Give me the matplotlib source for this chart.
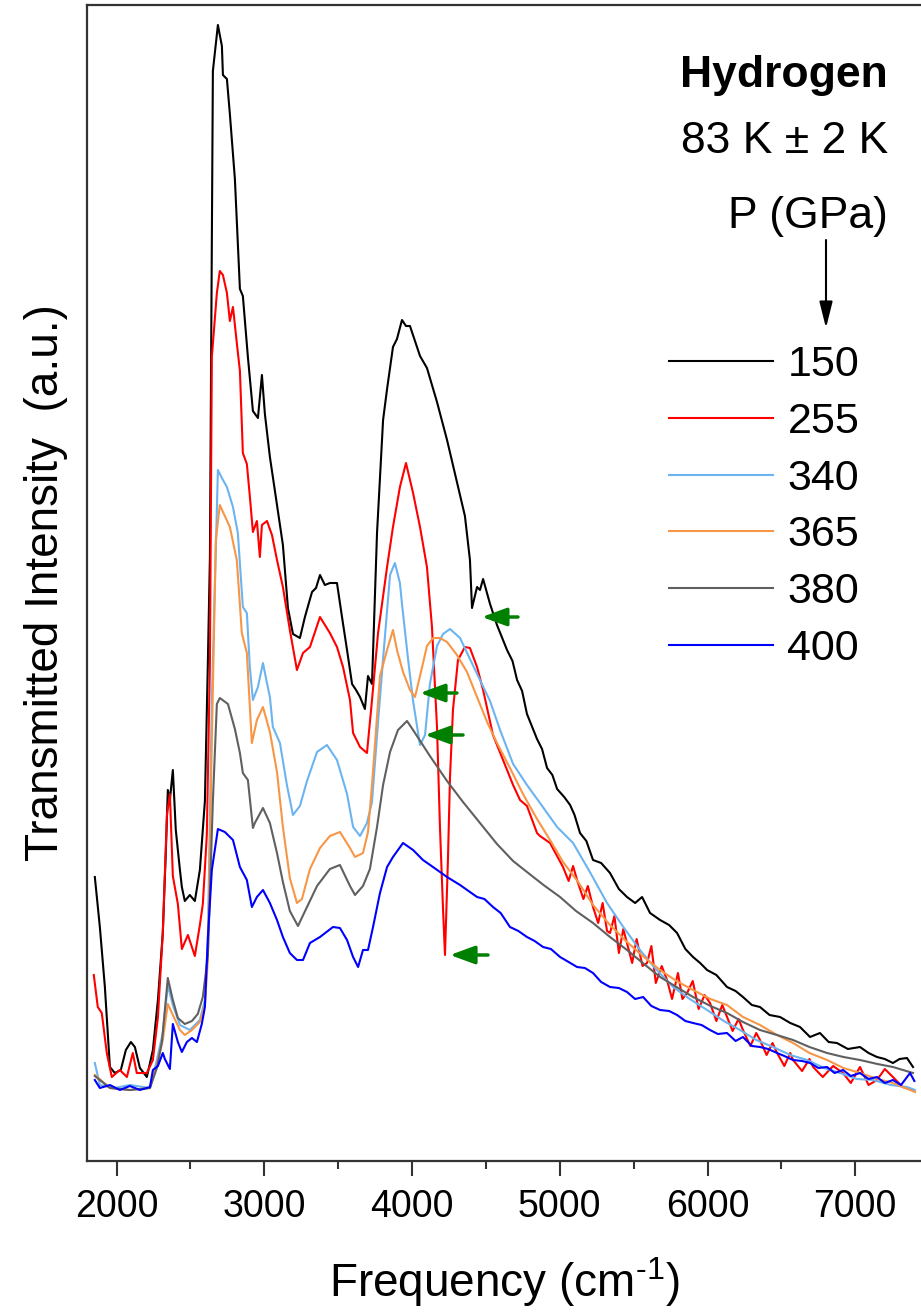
import numpy as np
import matplotlib
matplotlib.use("Agg")
import matplotlib.pyplot as plt
from matplotlib.ticker import MultipleLocator

plt.rcParams['font.family'] = ['Liberation Sans', 'DejaVu Sans']
plt.rcParams['mathtext.default'] = 'regular'

# spectra: (frequency cm-1, intensity a.u.)
s150 = [(1853, 2.84), (1887, 2.34), (1921, 1.74), (1955, 0.94), (1988, 0.88), (2029, 0.91),
        (2063, 1.11), (2097, 1.19), (2124, 1.14), (2158, 0.93), (2205, 0.84), (2246, 1.11),
        (2280, 1.61), (2313, 2.28), (2334, 3.11), (2347, 3.71), (2361, 3.61), (2381, 3.91),
        (2401, 3.31), (2429, 2.91), (2442, 2.74), (2462, 2.60), (2496, 2.66), (2530, 2.60),
        (2564, 2.91), (2598, 3.60), (2618, 4.98), (2632, 6.04), (2652, 10.90), (2686, 11.36),
        (2713, 11.15), (2720, 10.86), (2747, 10.82), (2767, 10.47), (2801, 9.82), (2835, 8.72),
        (2855, 8.65), (2889, 8.04), (2923, 7.50), (2957, 7.43), (2984, 7.86), (3004, 7.47),
        (3038, 7.04), (3086, 6.56), (3126, 6.16), (3160, 5.53), (3194, 5.27), (3241, 5.23),
        (3275, 5.44), (3323, 5.69), (3350, 5.73), (3377, 5.86), (3410, 5.76), (3444, 5.78),
        (3492, 5.78), (3526, 5.44), (3560, 5.11), (3594, 4.77), (3621, 4.71), (3648, 4.64),
        (3681, 4.52), (3702, 4.85), (3729, 4.77), (3763, 6.28), (3804, 7.41), (3831, 7.72),
        (3871, 8.14), (3898, 8.22), (3932, 8.41), (3959, 8.35), (3986, 8.35), (4034, 8.14),
        (4054, 8.05), (4101, 7.93), (4169, 7.59), (4237, 7.21), (4304, 6.79), (4358, 6.45),
        (4392, 6.01), (4406, 5.53), (4440, 5.74), (4460, 5.71), (4481, 5.82), (4528, 5.57),
        (4575, 5.36), (4643, 5.11), (4680, 5.00), (4711, 4.81), (4745, 4.70), (4778, 4.47),
        (4846, 4.22), (4880, 4.12), (4914, 3.93), (4950, 3.86), (4982, 3.72), (5030, 3.64),
        (5070, 3.56), (5100, 3.46), (5137, 3.28), (5180, 3.20), (5225, 3.01), (5280, 2.98),
        (5340, 2.88), (5400, 2.72), (5455, 2.64), (5510, 2.58), (5557, 2.64), (5611, 2.48),
        (5679, 2.41), (5740, 2.36), (5794, 2.28), (5850, 2.12), (5902, 2.04), (5950, 1.98),
        (5997, 1.91), (6060, 1.86), (6132, 1.74), (6190, 1.70), (6240, 1.64), (6300, 1.56),
        (6355, 1.54), (6420, 1.46), (6491, 1.44), (6560, 1.38), (6626, 1.34), (6694, 1.24),
        (6761, 1.28), (6820, 1.19), (6876, 1.18), (6950, 1.12), (7032, 1.14), (7090, 1.08),
        (7147, 1.04), (7200, 1.02), (7255, 0.98), (7300, 1.02), (7350, 1.03), (7391, 0.94)]

s255 = [(1846, 1.86), (1873, 1.54), (1900, 1.48), (1934, 1.08), (1968, 0.84), (2022, 0.91),
        (2070, 0.84), (2110, 1.08), (2137, 0.88), (2205, 0.88), (2246, 1.01), (2280, 1.44),
        (2313, 2.28), (2341, 3.46), (2361, 3.67), (2381, 2.85), (2415, 2.57), (2442, 2.12),
        (2483, 2.26), (2530, 2.05), (2564, 2.36), (2584, 2.57), (2611, 3.26), (2632, 4.98),
        (2645, 8.04), (2679, 8.68), (2699, 8.90), (2720, 8.86), (2747, 8.68), (2767, 8.40),
        (2788, 8.54), (2814, 8.18), (2835, 7.90), (2855, 7.08), (2882, 6.97), (2902, 6.65),
        (2923, 6.29), (2950, 6.40), (2970, 6.04), (2984, 6.36), (3018, 6.40), (3052, 6.26),
        (3086, 6.01), (3126, 5.74), (3173, 5.31), (3221, 4.91), (3262, 5.08), (3309, 5.14),
        (3377, 5.44), (3444, 5.28), (3492, 5.14), (3533, 4.94), (3580, 4.61), (3601, 4.28),
        (3648, 4.14), (3695, 4.08), (3729, 4.61), (3770, 5.28), (3831, 5.94), (3871, 6.34),
        (3918, 6.74), (3959, 6.98), (4007, 6.68), (4054, 6.34), (4101, 5.94), (4135, 5.34),
        (4169, 4.34), (4189, 3.34), (4210, 2.51), (4223, 2.06), (4243, 3.01), (4257, 3.84),
        (4277, 4.51), (4311, 5.01), (4358, 5.14), (4392, 5.13), (4440, 4.94), (4481, 4.71),
        (4548, 4.26), (4616, 4.01), (4684, 3.76), (4731, 3.61), (4778, 3.55), (4846, 3.28),
        (4866, 3.25), (4934, 3.18), (5022, 2.94), (5060, 2.80), (5090, 2.95), (5117, 2.81),
        (5160, 2.62), (5190, 2.75), (5225, 2.54), (5260, 2.38), (5290, 2.58), (5320, 2.30),
        (5340, 2.28), (5370, 2.45), (5400, 2.08), (5430, 2.32), (5455, 2.18), (5490, 1.98),
        (5520, 2.22), (5560, 1.95), (5591, 1.98), (5620, 2.15), (5650, 1.78), (5690, 1.95),
        (5726, 1.81), (5760, 1.62), (5800, 1.88), (5830, 1.62), (5862, 1.68), (5900, 1.80),
        (5940, 1.52), (5980, 1.66), (6017, 1.58), (6060, 1.40), (6100, 1.56), (6132, 1.44),
        (6170, 1.30), (6210, 1.42), (6240, 1.31), (6290, 1.15), (6330, 1.28), (6355, 1.21),
        (6400, 1.06), (6440, 1.18), (6471, 1.08), (6520, 0.95), (6560, 1.08), (6579, 1.01),
        (6640, 0.90), (6690, 1.02), (6715, 0.94), (6780, 0.84), (6850, 0.95), (6917, 0.88),
        (6970, 0.78), (7032, 0.94), (7090, 0.76), (7147, 0.81), (7200, 0.92), (7255, 0.84),
        (7320, 0.74), (7391, 0.71)]

s340 = [(1853, 0.98), (1887, 0.76), (1988, 0.73), (2090, 0.76), (2226, 0.73), (2273, 1.01),
        (2313, 1.28), (2347, 1.76), (2381, 1.56), (2429, 1.36), (2496, 1.31), (2564, 1.41),
        (2598, 1.61), (2618, 2.21), (2645, 4.61), (2686, 6.91), (2713, 6.83), (2747, 6.74),
        (2788, 6.54), (2821, 6.28), (2855, 5.54), (2882, 5.48), (2902, 4.94), (2923, 4.61),
        (2957, 4.74), (2991, 4.98), (3018, 4.78), (3038, 4.64), (3058, 4.34), (3106, 4.18),
        (3153, 3.76), (3194, 3.46), (3241, 3.55), (3289, 3.80), (3357, 4.09), (3424, 4.16),
        (3492, 4.01), (3560, 3.67), (3601, 3.34), (3648, 3.25), (3695, 3.38), (3729, 3.59),
        (3770, 4.39), (3804, 5.02), (3851, 5.86), (3884, 5.98), (3918, 5.78), (3932, 5.57),
        (3973, 5.02), (4007, 4.60), (4054, 4.16), (4088, 4.26), (4121, 4.77), (4169, 5.15),
        (4210, 5.27), (4257, 5.32), (4325, 5.23), (4392, 5.02), (4460, 4.81), (4528, 4.60),
        (4596, 4.31), (4684, 3.97), (4778, 3.76), (4866, 3.58), (4982, 3.34), (5090, 3.18),
        (5200, 2.90), (5320, 2.58), (5430, 2.34), (5543, 2.11), (5650, 1.92), (5767, 1.74),
        (5880, 1.62), (5997, 1.51), (6110, 1.40), (6220, 1.31), (6330, 1.21), (6444, 1.14),
        (6560, 1.06), (6674, 1.01), (6790, 0.93), (6897, 0.88), (7010, 0.82), (7120, 0.81),
        (7240, 0.76), (7350, 0.74), (7404, 0.71)]

s365 = [(1853, 0.86), (1955, 0.73), (2090, 0.71), (2226, 0.73), (2273, 0.96), (2313, 1.21),
        (2347, 1.57), (2381, 1.46), (2429, 1.31), (2462, 1.26), (2510, 1.31), (2564, 1.39),
        (2598, 1.56), (2618, 2.01), (2645, 4.21), (2672, 6.21), (2699, 6.56), (2767, 6.34),
        (2814, 6.01), (2848, 5.28), (2882, 5.08), (2916, 4.18), (2950, 4.41), (2991, 4.54),
        (3038, 4.29), (3086, 3.89), (3126, 3.34), (3173, 2.83), (3221, 2.58), (3255, 2.62),
        (3309, 2.92), (3377, 3.13), (3444, 3.25), (3512, 3.29), (3580, 3.13), (3614, 3.04),
        (3668, 3.08), (3702, 3.29), (3729, 3.76), (3783, 4.85), (3831, 5.11), (3871, 5.31),
        (3898, 5.11), (3939, 4.89), (3986, 4.71), (4020, 4.64), (4054, 4.85), (4101, 5.15),
        (4142, 5.23), (4189, 5.23), (4237, 5.19), (4304, 5.06), (4372, 4.89), (4440, 4.64),
        (4508, 4.39), (4575, 4.18), (4663, 3.93), (4751, 3.67), (4846, 3.42), (4934, 3.21),
        (5022, 2.99), (5120, 2.80), (5225, 2.56), (5340, 2.36), (5455, 2.19), (5570, 2.04),
        (5679, 1.91), (5790, 1.80), (5902, 1.71), (6020, 1.62), (6132, 1.56), (6240, 1.44),
        (6355, 1.36), (6470, 1.26), (6579, 1.18), (6690, 1.08), (6809, 1.01), (6920, 0.93),
        (7032, 0.88), (7150, 0.82), (7255, 0.78), (7404, 0.69)]

s380 = [(1853, 0.85), (1955, 0.73), (2090, 0.71), (2226, 0.73), (2273, 0.93), (2307, 1.19),
        (2347, 1.83), (2381, 1.61), (2415, 1.43), (2462, 1.37), (2510, 1.40), (2550, 1.47),
        (2584, 1.64), (2618, 2.05), (2652, 3.60), (2679, 4.57), (2699, 4.63), (2754, 4.57),
        (2801, 4.32), (2835, 4.08), (2855, 3.88), (2889, 3.81), (2923, 3.33), (2936, 3.38),
        (2991, 3.53), (3038, 3.38), (3086, 3.08), (3126, 2.79), (3173, 2.50), (3228, 2.35),
        (3289, 2.54), (3357, 2.75), (3444, 2.92), (3512, 2.96), (3580, 2.75), (3614, 2.66),
        (3668, 2.75), (3715, 2.92), (3763, 3.34), (3804, 3.76), (3851, 4.09), (3905, 4.31),
        (3966, 4.40), (4007, 4.31), (4121, 4.05), (4237, 3.80), (4345, 3.59), (4460, 3.38),
        (4575, 3.17), (4684, 3.00), (4778, 2.89), (4890, 2.76), (5002, 2.64), (5110, 2.50),
        (5225, 2.38), (5340, 2.24), (5455, 2.11), (5570, 1.97), (5679, 1.84), (5790, 1.74),
        (5902, 1.64), (6020, 1.55), (6132, 1.48), (6240, 1.39), (6355, 1.31), (6470, 1.26),
        (6579, 1.21), (6690, 1.14), (6809, 1.08), (6920, 1.04), (7032, 1.01), (7150, 0.97),
        (7255, 0.94), (7391, 0.88)]

s400 = [(1853, 0.81), (1887, 0.73), (1955, 0.76), (2022, 0.71), (2090, 0.75), (2158, 0.71),
        (2226, 0.74), (2246, 0.91), (2280, 0.95), (2313, 1.08), (2327, 1.02), (2361, 0.92),
        (2381, 1.37), (2415, 1.19), (2442, 1.09), (2476, 1.19), (2510, 1.23), (2544, 1.19),
        (2577, 1.37), (2598, 1.54), (2618, 2.23), (2645, 2.91), (2686, 3.32), (2733, 3.29),
        (2788, 3.21), (2835, 2.94), (2882, 2.81), (2916, 2.54), (2950, 2.64), (2991, 2.71),
        (3038, 2.58), (3086, 2.41), (3126, 2.24), (3173, 2.08), (3221, 2.01), (3262, 2.01),
        (3309, 2.18), (3377, 2.24), (3465, 2.34), (3512, 2.33), (3560, 2.21), (3601, 2.04),
        (3635, 1.94), (3668, 2.11), (3702, 2.11), (3736, 2.34), (3783, 2.68), (3831, 2.94),
        (3871, 3.04), (3939, 3.18), (4007, 3.11), (4074, 3.01), (4142, 2.94), (4237, 2.84),
        (4325, 2.76), (4440, 2.64), (4490, 2.62), (4548, 2.54), (4600, 2.48), (4663, 2.34),
        (4720, 2.30), (4778, 2.24), (4830, 2.20), (4887, 2.14), (4940, 2.12), (5002, 2.04),
        (5060, 1.99), (5117, 1.94), (5170, 1.93), (5225, 1.88), (5280, 1.79), (5340, 1.74),
        (5400, 1.73), (5455, 1.69), (5510, 1.62), (5564, 1.64), (5620, 1.55), (5679, 1.51),
        (5740, 1.50), (5794, 1.46), (5850, 1.40), (5902, 1.38), (5960, 1.36), (6017, 1.31),
        (6070, 1.27), (6132, 1.28), (6190, 1.20), (6240, 1.24), (6300, 1.15), (6355, 1.14),
        (6410, 1.12), (6471, 1.08), (6520, 1.05), (6579, 1.01), (6640, 1.00), (6694, 0.98),
        (6750, 0.93), (6809, 0.94), (6860, 0.88), (6917, 0.91), (6970, 0.85), (7032, 0.88),
        (7090, 0.82), (7147, 0.84), (7200, 0.78), (7255, 0.81), (7310, 0.76), (7371, 0.88),
        (7400, 0.80)]

pressures = ["150", "255", "340", "365", "380", "400"]
spectra = [s150, s255, s340, s365, s380, s400]
colors = ["#000000", "#ff0000", "#6cb4f0", "#f79646", "#606060", "#0000ff"]

# green arrows: (tail freq, head freq, intensity)
arrows = [(4717, 4473, 5.44), (4304, 4054, 4.68), (4345, 4088, 4.26), (4514, 4257, 2.06)]

fig = plt.figure(figsize=(9.21, 13.12), dpi=100)
ax = fig.add_axes([87 / 921, 1 - 1161 / 1312, (921 - 87) / 921, (1161 - 5) / 1312])

handles = []
for data, col, lab in zip(spectra, colors, pressures):
    arr = np.array(data)
    ln, = ax.plot(arr[:, 0], arr[:, 1], color=col, lw=1.5, label=lab)
    handles.append(ln)

for x0, x1, y in arrows:
    ax.annotate("", xy=(x1, y), xytext=(x0, y),
                arrowprops=dict(arrowstyle="-|>,head_length=1.5,head_width=0.55",
                                color="#008000", lw=2.5, shrinkA=0, shrinkB=0))

ax.set_xlim(1800, 7445)
ax.set_ylim(0, 11.56)
ax.set_xticks(range(2000, 7001, 1000))
ax.xaxis.set_minor_locator(MultipleLocator(500))
ax.set_yticks([])
ax.tick_params(axis="x", which="major", length=11, width=1.5, labelsize=27, pad=9, color="#333333")
ax.tick_params(axis="x", which="minor", length=6, width=1.5, color="#333333")
ax.spines["right"].set_visible(False)
for s in ["left", "top", "bottom"]:
    ax.spines[s].set_linewidth(1.6)
    ax.spines[s].set_color("#333333")

ax.set_xlabel("Frequency (cm$^{\u2010 1}$)", fontsize=33, labelpad=22)
ax.set_ylabel("Transmitted Intensity  (a.u.)", fontsize=33, labelpad=14)

ax.legend(handles=handles, loc="upper left", bbox_to_anchor=(669 / 921, 1 - 345 / 1312),
          bbox_transform=fig.transFigure, frameon=False, fontsize=31,
          handlelength=2.42, handletextpad=0.33, labelspacing=0.39,
          borderpad=0, borderaxespad=0)

fig.text(888 / 921, 1 - 87 / 1312, "Hydrogen", fontsize=32, fontweight="bold",
         ha="right", va="baseline")
fig.text(888 / 921, 1 - 153 / 1312, "83 K \u00b1 2 K", fontsize=32, ha="right", va="baseline")
fig.text(888 / 921, 1 - 228 / 1312, "P (GPa)", fontsize=32, ha="right", va="baseline")
ax.annotate("", xy=(826 / 921, 1 - 328 / 1312), xytext=(826 / 921, 1 - 240 / 1312),
            xycoords="figure fraction", textcoords="figure fraction",
            arrowprops=dict(arrowstyle="-|>,head_length=1.6,head_width=0.4",
                            color="black", lw=1.5, shrinkA=0, shrinkB=0))

fig.savefig("out.png", dpi=100)
